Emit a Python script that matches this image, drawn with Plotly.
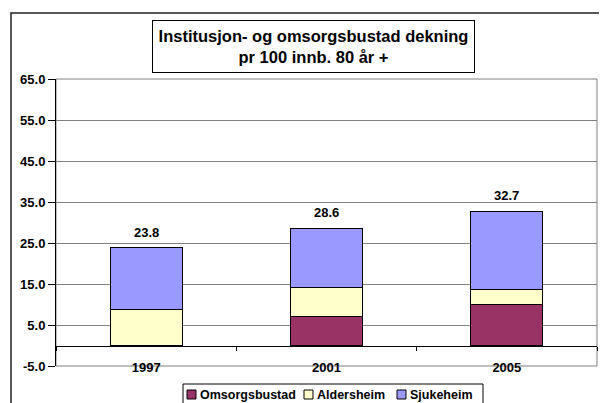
import plotly.graph_objects as go

# data
years = ["1997", "2001", "2005"]
omsorgsbustad = [0.0, 7.0, 10.0]
aldersheim = [8.8, 7.1, 3.6]
sjukeheim = [15.0, 14.5, 19.1]
y_ticks = [-5, 5, 15, 25, 35, 45, 55, 65]

series = [
    ("Omsorgsbustad", omsorgsbustad, "#993366"),
    ("Aldersheim", aldersheim, "#FFFFCC"),
    ("Sjukeheim", sjukeheim, "#9999FF"),
]
totals = [round(a + b + c, 1) for a, b, c in zip(omsorgsbustad, aldersheim, sjukeheim)]

FONT = "Arial, Liberation Sans, sans-serif"

# the page puts the figure 8px in from the corner; plot box in page pixels
OFF = 8
PL, PR, PT, PB = 56, 597, 79, 366


def fx(px):
    return (px - PL) / (PR - PL)


def fy(py):
    return (PB - py) / (PB - PT)


fig = go.Figure()
for name, vals, col in series:
    fig.add_trace(go.Bar(x=years, y=vals, name=name, marker_color=col,
                         marker_line_color="black", marker_line_width=1,
                         showlegend=False))

# total labels above each stack (category index, since the names look numeric)
for i, tot in enumerate(totals):
    fig.add_annotation(x=i, y=tot, text=f"{tot:.1f}", showarrow=False,
                       yanchor="bottom", yshift=6,
                       font=dict(family=FONT, size=13, color="black", weight="bold"))

# title in a box
fig.add_annotation(xref="paper", yref="paper", x=fx(313.5), y=fy(46.5),
                   xanchor="center", yanchor="middle",
                   text="Institusjon- og omsorgsbustad dekning<br>pr 100 innb. 80 år +",
                   showarrow=False, bordercolor="black", borderwidth=1,
                   borderpad=2, width=317, height=47, bgcolor="white",
                   font=dict(family=FONT, size=16.5, color="black", weight="bold"))

# plot area border (gray) and outer chart border
fig.add_shape(type="rect", xref="paper", yref="paper", x0=0, x1=1, y0=0, y1=1,
              line=dict(color="#808080", width=1), layer="below")
fig.add_shape(type="rect", xref="paper", yref="paper", x0=fx(11), x1=fx(700),
              y0=fy(480), y1=fy(13), line=dict(color="#222222", width=1.5))

# legend drawn by hand so it stays as compact as the original
fig.add_shape(type="rect", xref="paper", yref="paper", x0=fx(183), x1=fx(483),
              y0=fy(420), y1=fy(384), line=dict(color="black", width=1),
              fillcolor="white")
legend_x = [187, 304, 397]
for (name, vals, col), lx in zip(series, legend_x):
    fig.add_shape(type="rect", xref="paper", yref="paper", x0=fx(lx), x1=fx(lx + 9),
                  y0=fy(399), y1=fy(390), line=dict(color="black", width=1),
                  fillcolor=col)
    fig.add_annotation(xref="paper", yref="paper", x=fx(lx + 11), y=fy(394.5),
                       xanchor="left", yanchor="middle", text=name, showarrow=False,
                       font=dict(family=FONT, size=12.5, color="black", weight="bold"))

fig.update_layout(
    width=607, height=403,
    margin=dict(l=PL - OFF, r=607 - PR + OFF, t=PT - OFF, b=403 - PB + OFF,
                autoexpand=False),
    paper_bgcolor="white", plot_bgcolor="white",
    barmode="stack", bargap=0.6,
    font=dict(family=FONT, size=13, color="black"),
    showlegend=False,
)
fig.update_yaxes(range=[-5, 65], tickvals=y_ticks,
                 ticktext=[f"{v:.1f}" for v in y_ticks],
                 showgrid=True, gridcolor="#808080", gridwidth=1,
                 zeroline=False, showline=True, linecolor="black", linewidth=1,
                 ticks="outside", ticklen=7, tickcolor="black",
                 tickfont=dict(family=FONT, size=13, weight="bold"))
fig.update_xaxes(type="category", range=[-0.5, len(years) - 0.5], anchor="free",
                 position=5 / 70, showline=True,
                 linecolor="black", linewidth=1, ticks="outside",
                 tickson="boundaries", ticklen=4, tickcolor="black",
                 showgrid=False, ticklabelstandoff=10,
                 tickfont=dict(family=FONT, size=13, weight="bold"))

fig.write_html("out.html")
